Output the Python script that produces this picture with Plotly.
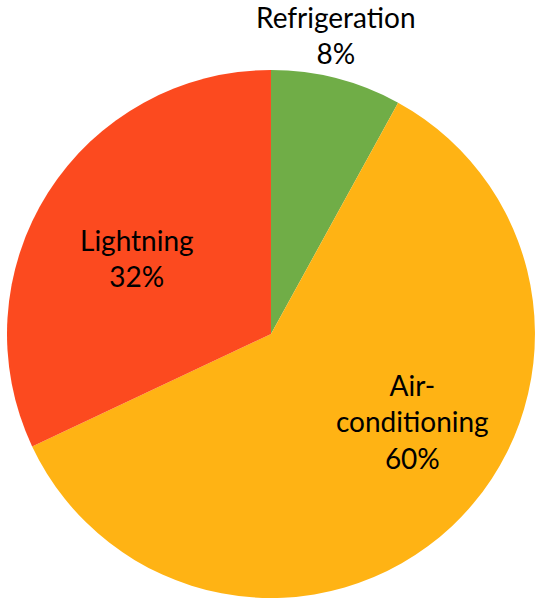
import plotly.graph_objects as go

# Electricity consumption by end use
categories = ["Refrigeration", "Air-conditioning", "Lightning"]
shares = [8, 60, 32]
colors = ["#70AD47", "#FFB314", "#FC4A1F"]

# Label text shown for each slice (line breaks as rendered)
label_lines = ["Refrigeration", "Air-<br>conditioning", "Lightning"]
# Label anchor positions in paper coordinates
label_pos = [(0.623, 0.941), (0.765, 0.297), (0.255, 0.569)]

total = sum(shares)

fig = go.Figure(
    go.Pie(
        labels=categories,
        values=shares,
        sort=False,
        direction="clockwise",
        rotation=0,
        marker=dict(colors=colors, line=dict(width=0)),
        textinfo="none",
        hoverinfo="label+percent",
        showlegend=False,
        domain=dict(x=[0.0111, 0.9944], y=[0.0017, 0.8831]),
    )
)

for text, val, (x, y) in zip(label_lines, shares, label_pos):
    fig.add_annotation(
        x=x, y=y, xref="paper", yref="paper",
        text=f"{text}<br>{round(100 * val / total)}%",
        showarrow=False,
        xanchor="center", yanchor="middle",
        font=dict(family="Lato, Carlito, Calibri, sans-serif", size=28, color="#000000"),
    )

fig.update_layout(
    width=539, height=599,
    margin=dict(l=0, r=0, t=0, b=0),
    paper_bgcolor="white",
    plot_bgcolor="white",
)

fig.write_html("out.html")
